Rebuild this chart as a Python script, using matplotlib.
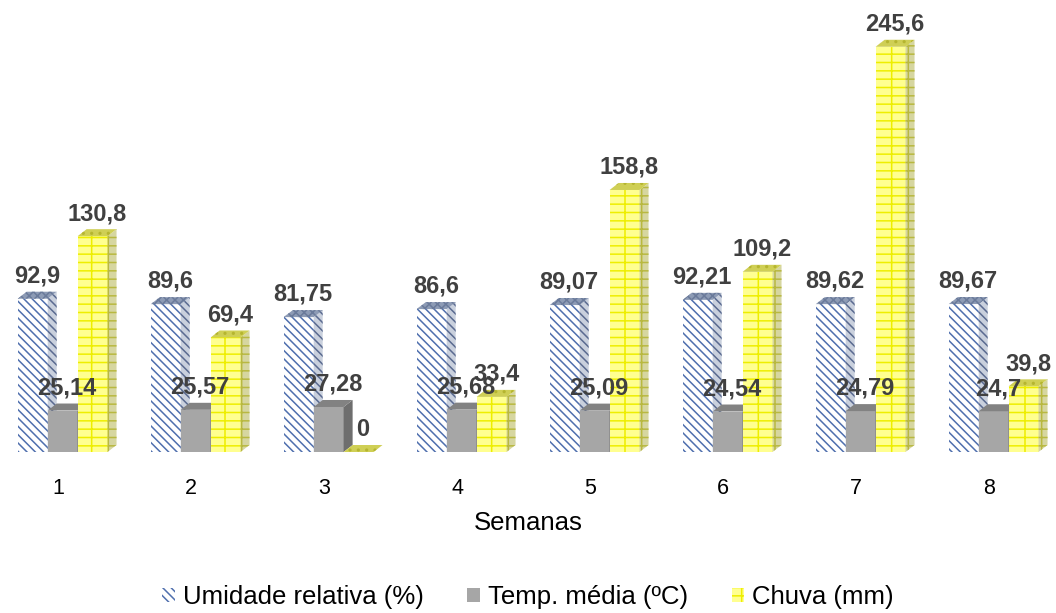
import matplotlib

matplotlib.use("Agg")
import matplotlib.pyplot as plt
from matplotlib.patches import Polygon, Patch

plt.rcParams["font.family"] = ["Liberation Sans", "DejaVu Sans"]
plt.rcParams["hatch.linewidth"] = 1.1

# dados (semanas)
semanas = ["1", "2", "3", "4", "5", "6", "7", "8"]
umidade = [92.9, 89.6, 81.75, 86.6, 89.07, 92.21, 89.62, 89.67]
temp = [25.14, 25.57, 27.28, 25.68, 25.09, 24.54, 24.79, 24.7]
chuva = [130.8, 69.4, 0, 33.4, 158.8, 109.2, 245.6, 39.8]

lab_umid = ["92,9", "89,6", "81,75", "86,6", "89,07", "92,21", "89,62", "89,67"]
lab_temp = ["25,14", "25,57", "27,28", "25,68", "25,09", "24,54", "24,79", "24,7"]
lab_chuva = ["130,8", "69,4", "0", "33,4", "158,8", "109,2", "245,6", "39,8"]

W, H = 1056, 613
fig = plt.figure(figsize=(W / 100, H / 100), dpi=100)
base_px = 161
ax = fig.add_axes([0, base_px / H, 1, (H - base_px) / H])
ppu_x = 133.0  # px por semana
ppu_y = 1.65   # px por unidade
ax.set_xlim(-58 / ppu_x, (W - 58) / ppu_x)
ax.set_ylim(0, (H - base_px) / ppu_y)

width = 0.225
dx = 9 / ppu_x
dy = 7 / ppu_y

series = [
    # valores, rótulos, deslocamento, frente, lado, topo
    (umidade, lab_umid, -0.19,
     dict(facecolor="white", edgecolor="#4f6fae", hatch="\\\\\\\\"),
     dict(facecolor="#c9d0dd", edgecolor="#5a6a90", hatch="\\\\\\\\"),
     dict(facecolor="#8d9bb5", edgecolor="#6a7a9a", hatch="xxxx")),
    (temp, lab_temp, 0.035,
     dict(facecolor="#a6a6a6", edgecolor="#a6a6a6", hatch=None),
     dict(facecolor="#6e6e6e", edgecolor="#6e6e6e", hatch=None),
     dict(facecolor="#828282", edgecolor="#828282", hatch=None)),
    (chuva, lab_chuva, 0.26,
     dict(facecolor="#ffff90", edgecolor="#eeee00", hatch="--|"),
     dict(facecolor="#d6d6a0", edgecolor="#b8b840", hatch="--|"),
     dict(facecolor="#cfcf55", edgecolor="#b5b530", hatch="..")),
]

z = 2
for i in range(len(semanas)):
    for vals, labs, off, front, side, top in series:
        h = vals[i]
        x0 = i + off - width / 2
        x1 = x0 + width
        ax.bar(x0, h, width=width, align="edge", linewidth=0, zorder=z, **front)
        ax.add_patch(Polygon([(x1, 0), (x1 + dx, dy), (x1 + dx, h + dy), (x1, h)],
                             closed=True, linewidth=0, zorder=z, **side))
        ax.add_patch(Polygon([(x0, h), (x1, h), (x1 + dx, h + dy), (x0 + dx, h + dy)],
                             closed=True, linewidth=0, zorder=z, **top))
        ax.annotate(labs[i], (i + off + dx / 2, h + dy), xytext=(0, 3),
                    textcoords="offset points", ha="center", va="bottom",
                    fontsize=17, fontweight="bold", color="#404040", zorder=100)
        z += 1

ax.set_xticks(range(len(semanas)))
ax.set_xticklabels(semanas, fontsize=15.5)
ax.tick_params(axis="x", length=0, pad=19)
ax.set_yticks([])
ax.set_xlabel("Semanas", fontsize=18.5, labelpad=8)
for s in ax.spines.values():
    s.set_visible(False)

handles = [
    Patch(facecolor="white", edgecolor="#4f6fae", hatch="\\\\\\\\", linewidth=0),
    Patch(facecolor="#a6a6a6", edgecolor="#a6a6a6", linewidth=0),
    Patch(facecolor="#ffff90", edgecolor="#eeee00", hatch="--|", linewidth=0),
]
fig.legend(handles, ["Umidade relativa (%)", "Temp. média (ºC)", "Chuva (mm)"],
           loc="center", bbox_to_anchor=(0.5, 16 / H), ncol=3, frameon=False,
           fontsize=18.5, handlelength=0.5, handleheight=0.5, handletextpad=0.3,
           columnspacing=1.7, borderpad=0.1)

fig.savefig("out.png", dpi=100, facecolor="white")
